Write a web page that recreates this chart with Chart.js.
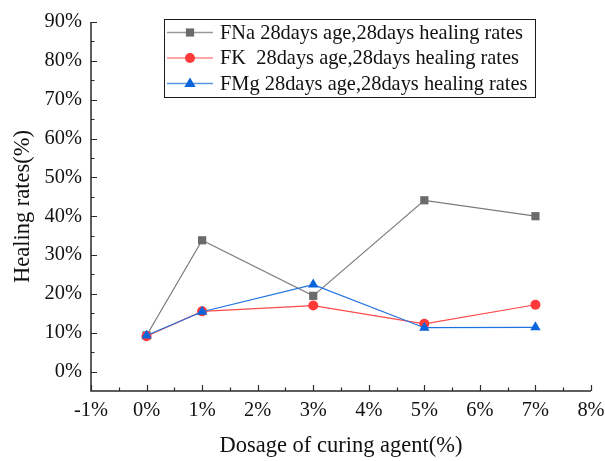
<!DOCTYPE html>
<html>
<head>
<meta charset="utf-8">
<script src="https://cdn.jsdelivr.net/npm/chart.js@4/dist/chart.umd.min.js"></script>
<style>
  html, body { margin: 0; padding: 0; background: #fff; }
  #wrap { width: 605px; height: 461px; }
</style>
</head>
<body>
<div id="wrap"><canvas id="healingChart" width="605" height="461"></canvas></div>
<script>
const dosages = [0, 1, 3, 5, 7];
const fnaRates = [9.3, 33.8, 19.5, 44.1, 40.0];
const fkRates = [9.1, 15.5, 17.0, 12.3, 17.2];
const fmgRates = [9.3, 15.4, 22.4, 11.3, 11.4];
const seriesLabels = [
  'FNa 28days age,28days healing rates',
  'FK  28days age,28days healing rates',
  'FMg 28days age,28days healing rates'
];
const xTickValues = [-1, 0, 1, 2, 3, 4, 5, 6, 7, 8];
const yTickValues = [0, 10, 20, 30, 40, 50, 60, 70, 80, 90];

const FONT = "'Liberation Serif', 'Times New Roman', serif";
const markerStyles = ['rect', 'circle', 'triangle'];

function toPoints(values) {
  return dosages.map((d, i) => ({ x: d, y: values[i] }));
}

// axis lines and inward ticks (major + minor)
const axisPlugin = {
  id: 'axisPlugin',
  afterDraw(chart) {
    const ctx = chart.ctx;
    const xs = chart.scales.x;
    const ys = chart.scales.y;
    const left = chart.chartArea.left;
    const bottom = chart.chartArea.bottom;
    const top = ys.getPixelForValue(90);
    const right = xs.getPixelForValue(8);
    ctx.save();
    ctx.strokeStyle = '#2a2a2a';
    ctx.lineWidth = 1.5;
    ctx.beginPath();
    ctx.moveTo(left, top);
    ctx.lineTo(left, bottom);
    ctx.lineTo(right, bottom);
    ctx.stroke();
    ctx.lineWidth = 1.2;
    ctx.beginPath();
    for (let v = -1; v <= 8; v += 0.5) {
      const px = Math.round(xs.getPixelForValue(v)) + 0.5;
      const len = Number.isInteger(v) ? 6 : 3.5;
      ctx.moveTo(px, bottom);
      ctx.lineTo(px, bottom - len);
    }
    for (let v = 0; v <= 90; v += 5) {
      const py = Math.round(ys.getPixelForValue(v)) + 0.5;
      const len = v % 10 === 0 ? 6 : 3.5;
      ctx.moveTo(left, py);
      ctx.lineTo(left + len, py);
    }
    ctx.stroke();
    ctx.restore();
  }
};

function drawMarker(ctx, style, x, y, r) {
  ctx.beginPath();
  if (style === 'rect') {
    const s = r * Math.SQRT1_2;
    ctx.rect(x - s, y - s, 2 * s, 2 * s);
  } else if (style === 'circle') {
    ctx.arc(x, y, r, 0, Math.PI * 2);
  } else {
    ctx.moveTo(x, y - r);
    ctx.lineTo(x + r * 0.95, y + r * 0.6);
    ctx.lineTo(x - r * 0.95, y + r * 0.6);
    ctx.closePath();
  }
  ctx.fill();
}

// boxed legend inside the plot
const legendBox = {
  id: 'legendBox',
  afterDraw(chart) {
    const ctx = chart.ctx;
    ctx.save();
    ctx.strokeStyle = '#1a1a1a';
    ctx.lineWidth = 1;
    ctx.strokeRect(164.5, 19.5, 371, 78);
    ctx.font = '20.4px ' + FONT;
    ctx.textBaseline = 'middle';
    chart.data.datasets.forEach((ds, i) => {
      const y = 32.5 + i * 25.5;
      ctx.strokeStyle = ds.legendLine;
      ctx.lineWidth = 1.5;
      ctx.beginPath();
      ctx.moveTo(167, y);
      ctx.lineTo(213, y);
      ctx.stroke();
      ctx.fillStyle = ds.pointBackgroundColor;
      drawMarker(ctx, markerStyles[i], 190, y, ds.pointRadius);
      ctx.fillStyle = '#111';
      ctx.fillText(ds.label, 220, y + 1);
    });
    ctx.restore();
  }
};

new Chart(document.getElementById('healingChart'), {
  type: 'scatter',
  data: {
    datasets: [
      {
        label: seriesLabels[0],
        data: toPoints(fnaRates),
        showLine: true,
        borderColor: '#7a7a7a',
        legendLine: '#9a9a9a',
        borderWidth: 1.2,
        pointStyle: 'rect',
        pointRadius: 5.8,
        pointBackgroundColor: '#6b6b6b',
        pointBorderWidth: 0,
        order: 2
      },
      {
        label: seriesLabels[1],
        data: toPoints(fkRates),
        showLine: true,
        borderColor: '#ff4a4a',
        legendLine: '#ff8a8a',
        borderWidth: 1.2,
        pointStyle: 'circle',
        pointRadius: 5,
        pointBackgroundColor: '#ff3a3a',
        pointBorderWidth: 0,
        order: 1
      },
      {
        label: seriesLabels[2],
        data: toPoints(fmgRates),
        showLine: true,
        borderColor: '#1f72e0',
        legendLine: '#5a96e8',
        borderWidth: 1.2,
        pointStyle: 'triangle',
        pointRadius: 6,
        pointBackgroundColor: '#0a64dc',
        pointBorderWidth: 0,
        order: 0
      }
    ]
  },
  options: {
    responsive: false,
    animation: false,
    devicePixelRatio: 1,
    layout: { padding: { top: 22, right: 14, left: 0, bottom: 0 } },
    plugins: {
      legend: { display: false },
      tooltip: { enabled: false }
    },
    scales: {
      x: {
        type: 'linear',
        min: -1,
        max: 8,
        afterBuildTicks: scale => { scale.ticks = xTickValues.map(v => ({ value: v })); },
        afterFit: scale => {
          scale.height = 70;
          scale.paddingLeft = 0;
          scale.paddingRight = 0;
        },
        grid: { display: false, drawTicks: false },
        border: { display: false },
        ticks: {
          padding: 7,
          color: '#111',
          font: { family: FONT, size: 20.4 },
          callback: v => v + '%'
        },
        title: {
          display: true,
          text: 'Dosage of curing agent(%)',
          color: '#111',
          font: { family: FONT, size: 22.5 },
          padding: { top: 0, bottom: 1 }
        }
      },
      y: {
        type: 'linear',
        min: -5,
        max: 90,
        afterBuildTicks: scale => { scale.ticks = yTickValues.map(v => ({ value: v })); },
        afterFit: scale => { scale.width = 91; },
        grid: { display: false, drawTicks: false },
        border: { display: false },
        ticks: {
          padding: 9,
          color: '#111',
          font: { family: FONT, size: 20.4 },
          callback: v => v + '%'
        },
        title: {
          display: true,
          text: 'Healing rates(%)',
          color: '#111',
          font: { family: FONT, size: 22.5 },
          padding: { top: 10, bottom: 0 }
        }
      }
    }
  },
  plugins: [axisPlugin, legendBox]
});
</script>
</body>
</html>
